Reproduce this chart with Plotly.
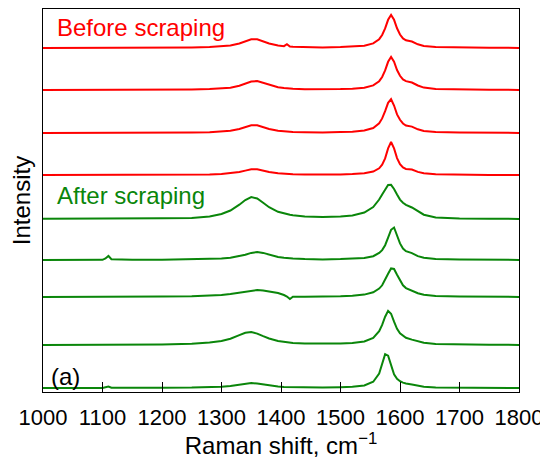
import plotly.graph_objects as go

# Raman shift grid (cm-1) shared by all spectra
raman_shift = [1000, 1050, 1100, 1105, 1110, 1115, 1150, 1200, 1250, 1280,
               1300, 1315, 1330, 1340, 1350, 1360, 1370, 1380, 1395, 1405,
               1410, 1415, 1420, 1440, 1470, 1500, 1520, 1540, 1555, 1565,
               1570, 1575, 1580, 1585, 1590, 1595, 1600, 1605, 1610, 1620,
               1630, 1640, 1660, 1700, 1750, 1800]

# Intensities (arb. units) of the spectra before scraping, top to bottom
before_1 = [0, 0, 0.1, 0.1, 0.1, 0.1, 0.2, 0.3, 0.5, 0.9,
            1.5, 2.5, 4.5, 6.6, 8.7, 8.7, 6.6, 4.5, 2.5, 1.8,
            3.8, 1.5, 1.2, 0.8, 0.6, 0.9, 1.3, 2.3, 4.6, 8.8,
            13, 19.6, 28.2, 33, 28.2, 19.7, 13.5, 9.6, 7.7, 6.5,
            3.7, 2.1, 1.0, 0.4, 0.2, 0.1]
before_2 = [0, 0, 0.1, 0.1, 0.1, 0.1, 0.2, 0.3, 0.5, 0.9,
            1.4, 2.3, 4.2, 6.2, 8.4, 8.9, 7.1, 5.0, 2.8, 2.0,
            1.7, 1.5, 1.3, 0.8, 0.5, 0.9, 1.3, 2.3, 4.6, 8.8,
            13, 19.6, 28.2, 33, 28.3, 20, 14.2, 10.6, 8.9, 7.5,
            4.5, 2.4, 1.0, 0.4, 0.2, 0.1]
before_3 = [0, 0, 0.1, 0.1, 0.1, 0.1, 0.2, 0.3, 0.4, 0.8,
            1.4, 2.2, 4.0, 5.9, 7.7, 7.7, 5.9, 4.0, 2.2, 1.6,
            1.4, 1.2, 1.0, 0.7, 0.4, 0.9, 1.3, 2.5, 5.0, 9.7,
            14.6, 21.8, 30.2, 33.8, 27.5, 18.6, 13.2, 9.5, 7.5, 6.4,
            3.7, 2.1, 1.0, 0.4, 0.2, 0.1]
before_4 = [0, 0, 0.1, 0.1, 0.1, 0.1, 0.1, 0.2, 0.3, 0.6,
            1.0, 1.7, 3.0, 4.4, 5.8, 5.8, 4.4, 3.0, 1.7, 1.2,
            1.0, 0.9, 0.8, 0.5, 0.3, 0.6, 0.9, 1.7, 3.4, 6.7,
            10.3, 16.6, 26.6, 33, 26.6, 16.9, 10.8, 7.5, 6.1, 5.5,
            3.1, 1.7, 0.8, 0.3, 0.1, 0.1]

# Intensities of the spectra after scraping, top to bottom
after_1 = [0.2, 0.2, 0.3, 0.3, 0.3, 0.3, 0.5, 0.8, 1.0, 2.5,
           5.0, 8.5, 14.3, 19, 21.9, 20.5, 16.2, 11.8, 7.2, 5.4,
           4.7, 4.2, 3.8, 2.6, 2.0, 2.5, 3.6, 6.5, 12, 19.5,
           24.6, 30, 34, 34.2, 30, 24.5, 19.4, 16.3, 14.2, 11.5,
           7.5, 4.3, 1.5, 0.4, 0.2, 0.1]
after_2 = [0, 0, 0.2, 1.5, 4, 0.8, 0.2, 0.3, 0.5, 0.9,
           1.4, 2.2, 3.7, 5.3, 7.1, 8, 7.1, 5.3, 3.1, 2.2,
           1.9, 1.7, 1.5, 0.9, 0.5, 0.9, 1.2, 2.0, 3.8, 7.0,
           9.9, 14.8, 22.3, 30.2, 32.5, 24.1, 16.6, 11.5, 8.8, 6.9,
           3.9, 2.2, 1.0, 0.4, 0.2, 0.1]
after_3 = [0, 0, 0.1, 0.1, 0.1, 0.1, 0.2, 0.4, 0.8, 1.4,
           2.1, 3.1, 4.5, 5.6, 6.6, 7, 6.6, 5.6, 4.0, 2.0,
           0.5, -2.0, 0.2, 0.3, 0.3, 0.7, 1.2, 2.4, 4.7, 8.4,
           11.7, 16.8, 23.3, 28.6, 28, 22.3, 16.2, 11.7, 8.9, 6.4,
           3.8, 2.3, 1.1, 0.5, 0.2, 0.1]
after_4 = [0.1, 0.1, 0.2, 0.2, 0.2, 0.2, 0.3, 0.6, 1.3, 2.4,
           4.0, 6.3, 9.9, 12.2, 13, 11.4, 8.8, 6.5, 4.1, 3.1,
           2.7, 2.4, 2.1, 1.5, 1.3, 1.4, 1.9, 3.5, 7.1, 13.8,
           20.1, 28.3, 34.1, 31.3, 23.3, 16.2, 11.6, 8.9, 7.2, 5.4,
           3.7, 2.2, 1.0, 0.4, 0.2, 0.1]
after_5 = [0, 0, 0.1, 0.8, 1.5, 0.3, 0.1, 0.2, 0.4, 0.8,
           1.3, 2.1, 3.5, 4.5, 5, 4.5, 3.5, 2.5, 1.5, 1.1,
           1.0, 0.9, 0.8, 0.5, 0.4, 0.8, 1.2, 2.6, 6.2, 14.5,
           23.7, 33.9, 32.4, 21.7, 13.6, 9.2, 6.8, 5.4, 4.5, 3.5,
           2.2, 1.3, 0.6, 0.3, 0.1, 0]

# Vertical stacking offsets for each spectrum
before_offsets = [344, 302, 259, 217]
after_offsets = [173, 132, 95, 47, 4]

x_ticks = [1000, 1100, 1200, 1300, 1400, 1500, 1600, 1700, 1800]

RED = "#ff0000"
GREEN = "#0a860a"
FONT = "Arial, Liberation Sans, sans-serif"

fig = go.Figure()

for spec, off in zip([before_1, before_2, before_3, before_4], before_offsets):
    fig.add_trace(go.Scatter(x=raman_shift, y=[v + off for v in spec], mode="lines",
                             line=dict(color=RED, width=2), showlegend=False))

for spec, off in zip([after_1, after_2, after_3, after_4, after_5], after_offsets):
    fig.add_trace(go.Scatter(x=raman_shift, y=[v + off for v in spec], mode="lines",
                             line=dict(color=GREEN, width=2), showlegend=False))

# Text labels inside the frame
fig.add_annotation(text="Before scraping", x=0.025, y=0.953, xref="paper", yref="paper",
                   xanchor="left", yanchor="middle", showarrow=False,
                   font=dict(color=RED, size=24))
fig.add_annotation(text="After scraping", x=0.025, y=0.512, xref="paper", yref="paper",
                   xanchor="left", yanchor="middle", showarrow=False,
                   font=dict(color=GREEN, size=24))
fig.add_annotation(text="(a)", x=0.013, y=0.04, xref="paper", yref="paper",
                   xanchor="left", yanchor="middle", showarrow=False,
                   font=dict(color="black", size=24))

fig.update_xaxes(range=[1000, 1800], tickvals=x_ticks, ticks="inside", ticklen=10,
                 tickcolor="black", showline=True, linecolor="black", linewidth=1,
                 mirror=True, showgrid=False, zeroline=False, automargin=False,
                 ticklabelstandoff=6,
                 tickfont=dict(size=22, color="black"),
                 title=dict(text="Raman shift, cm<sup>\u22121</sup>", standoff=7,
                            font=dict(size=24, color="black")))
fig.update_yaxes(range=[0, 383], showticklabels=False, ticks="", showline=True,
                 linecolor="black", linewidth=1, mirror=True, showgrid=False,
                 zeroline=False, automargin=False,
                 title=dict(text="Intensity", standoff=14, font=dict(size=24, color="black")))

# the page body adds an 8px margin, so the figure is sized to fit the window
fig.update_layout(width=540, height=451, margin=dict(l=35, r=29, t=1, b=67),
                  plot_bgcolor="white", paper_bgcolor="white",
                  font=dict(family=FONT, color="black"))

fig.write_html("out.html")
